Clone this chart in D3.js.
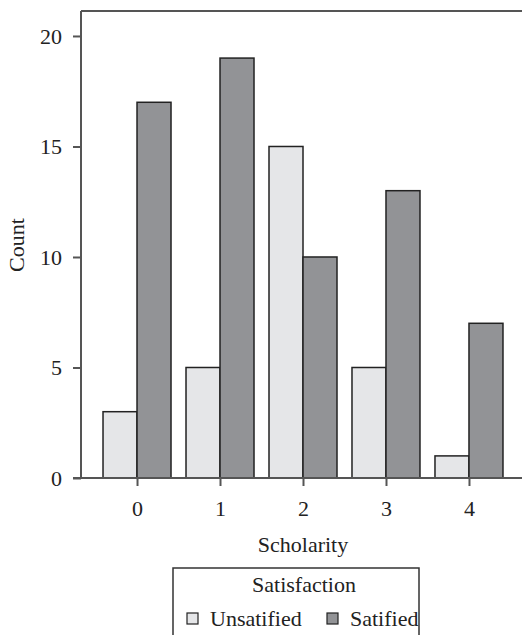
<!DOCTYPE html>
<html>
<head>
<meta charset="utf-8">
<script src="https://cdn.jsdelivr.net/npm/d3@7"></script>
<style>
  body { margin: 0; background: #fff; }
  svg text { font-family: "Liberation Serif", "Times New Roman", serif; fill: #222; }
</style>
</head>
<body>
<script>
'use strict';
let categories = ["0", "1", "2", "3", "4"];
let unsatified = [3, 5, 15, 5, 1];
let satified = [17, 19, 10, 13, 7];
let yTicks = [0, 5, 10, 15, 20];
let legendLabels = ["Unsatified", "Satified"];

(function () {
  const serif = '"Liberation Serif", "Times New Roman", serif';
  let svg = d3.select('body')
    .append('svg')
    .attr('width', 522)
    .attr('height', 635)
    .attr('font-family', serif);

  let left = 81, right = 525, top = 11, bottom = 478;
  let colors = ["#e5e6e8", "#929396"];

  let xScale = d3.scaleLinear()
    .domain([-0.675, categories.length - 1 + 0.675])
    .range([left, right]);
  let yScale = d3.scaleLinear()
    .domain([0, 21.13])
    .range([bottom, top]);
  let barW = 34;

  // frame
  svg.append('line').attr('x1', left).attr('x2', right).attr('y1', top).attr('y2', top)
    .attr('stroke', '#555').attr('stroke-width', 2);

  let rows = categories.map((c, i) => ({ c: i, u: unsatified[i], s: satified[i] }));

  svg.selectAll('.bu')
    .data(rows)
    .enter()
    .append('rect')
    .attr('x', (d) => xScale(d.c) - barW)
    .attr('y', (d) => yScale(d.u))
    .attr('width', barW)
    .attr('height', (d) => bottom - yScale(d.u))
    .attr('fill', colors[0])
    .attr('stroke', '#222')
    .attr('stroke-width', 1.5);

  svg.selectAll('.bs')
    .data(rows)
    .enter()
    .append('rect')
    .attr('x', (d) => xScale(d.c))
    .attr('y', (d) => yScale(d.s))
    .attr('width', barW)
    .attr('height', (d) => bottom - yScale(d.s))
    .attr('fill', colors[1])
    .attr('stroke', '#222')
    .attr('stroke-width', 1.5);

  // axes
  let yAxis = d3.axisLeft(yScale).tickValues(yTicks).tickSize(8).tickPadding(11);
  let gy = svg.append('g')
    .attr('transform', 'translate(' + left + ', 0)')
    .call(yAxis);
  gy.select('.domain').attr('d', 'M0,' + top + 'V' + bottom);

  let xAxis = d3.axisBottom(xScale)
    .tickValues(categories.map((c, i) => i))
    .tickFormat((d) => categories[d])
    .tickSize(8).tickPadding(14);
  let gx = svg.append('g')
    .attr('transform', 'translate(0, ' + bottom + ')')
    .call(xAxis);
  gx.select('.domain').attr('d', 'M' + (left - 8) + ',0H' + right);

  svg.selectAll('g').attr('font-family', serif).attr('font-size', 22);
  svg.selectAll('.domain').attr('stroke', '#555').attr('stroke-width', 2);
  svg.selectAll('.tick line').attr('stroke', '#555').attr('stroke-width', 2);
  svg.selectAll('.tick text').attr('fill', '#222');

  // labels
  svg.append('text')
    .attr('x', 303)
    .attr('y', 552)
    .attr('text-anchor', 'middle')
    .style('font-size', '22px')
    .text('Scholarity');

  svg.append('text')
    .attr('transform', 'translate(24, 245)rotate(-90)')
    .attr('text-anchor', 'middle')
    .style('font-size', '22px')
    .text('Count');

  // legend
  svg.append('rect')
    .attr('x', 173).attr('y', 568).attr('width', 246).attr('height', 80)
    .attr('fill', 'none').attr('stroke', '#333').attr('stroke-width', 1.5);
  svg.append('text')
    .attr('x', 304).attr('y', 592)
    .attr('text-anchor', 'middle')
    .style('font-size', '22px')
    .text('Satisfaction');

  let items = [{ x: 187, label: legendLabels[0] }, { x: 327, label: legendLabels[1] }];
  items.forEach((d, i) => {
    svg.append('rect')
      .attr('x', d.x).attr('y', 613).attr('width', 11).attr('height', 11)
      .attr('fill', colors[i]).attr('stroke', '#222').attr('stroke-width', 1.2);
    svg.append('text')
      .attr('x', d.x + 23).attr('y', 626)
      .style('font-size', '22px')
      .text(d.label);
  });
})();
</script>
</body>
</html>
